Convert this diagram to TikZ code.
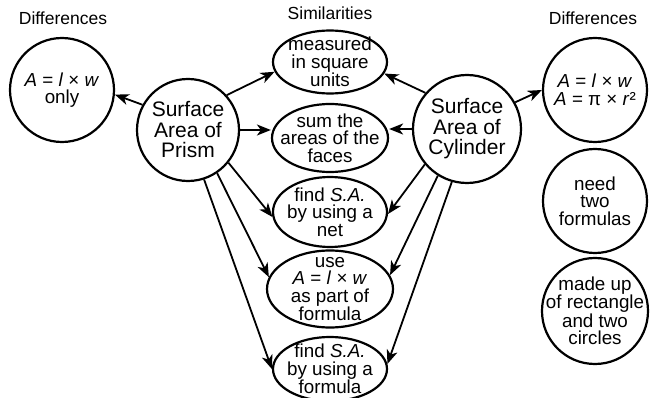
\documentclass[tikz,border=0pt]{standalone}
\usepackage{fontspec}
\setmainfont{Liberation Sans}
\usetikzlibrary{shapes.geometric,arrows.meta}
\begin{document}
\begin{tikzpicture}[x=1pt,y=-1pt,
  circ/.style={draw, circle, line width=2.2pt, inner sep=0pt},
  ell/.style={draw, ellipse, line width=2.2pt, inner sep=0pt},
  txt/.style={align=center, inner sep=0pt, font=\fontsize{18.8}{17.5}\selectfont},
  big/.style={align=center, inner sep=0pt, font=\fontsize{21}{20.5}\selectfont},
  hdr/.style={anchor=base, inner sep=0pt, font=\fontsize{17.5}{18}\selectfont},
  arr/.style={line width=1.8pt, -{Stealth[length=14pt,width=11pt,inset=4pt]}}]
\useasboundingbox (0,0) rectangle (654,398);
\clip (0,0) rectangle (654,398);
\fill[white] (0,0) rectangle (654,398);

% headers
\node[hdr] (h1) at (63,25) {Differences};
\node[hdr] (h2) at (330,20) {Similarities};
\node[hdr] (h3) at (593,25) {Differences};

% circles
\node[circ, minimum size=104pt] (leftc) at (62,90) {};
\node[txt] (leftct) at (leftc) {\textit{A} = \textit{l} × \textit{w}\\only};
\node[circ, minimum size=102pt] (prism) at (188,130) {};
\node[big] (prismt) at (prism) {Surface\\Area of\\Prism};
\node[circ, minimum size=108pt] (cyl) at (467,129) {};
\node[big] (cylt) at (cyl) {Surface\\Area of\\Cylinder};
\node[circ, minimum size=104pt] (r1) at (595,90) {};
\node[txt] (r1t) at (r1) {\textit{A} = \textit{l} × \textit{w}\\\textit{A} = π × \textit{r}²};
\node[circ, minimum size=104pt] (r2) at (595,201) {};
\node[txt] (r2t) at (r2) {need\\two\\formulas};
\node[circ, minimum size=106pt] (r3) at (595,311) {};
\node[txt] (r3t) at (r3) {made up\\of rectangle\\and two\\circles};

% ellipses
\node[ell, minimum width=114pt, minimum height=63pt] (meas) at (330,62) {};
\node[txt] (meast) at (meas) {measured\\in square\\units};
\node[ell, minimum width=116pt, minimum height=68pt] (sum) at (330,138) {};
\node[txt] (sumt) at (sum) {sum the\\areas of the\\faces};
\node[ell, minimum width=114pt, minimum height=70pt] (net) at (330,212) {};
\node[txt] (nett) at (net) {find \textit{S.A.}\\by using a\\net};
\node[ell, minimum width=126pt, minimum height=77pt] (use) at (330,289) {};
\node[txt] (uset) at (use) {use\\\textit{A} = \textit{l} × \textit{w}\\as part of\\formula};
\node[ell, minimum width=114pt, minimum height=64pt] (form) at (330,369) {};
\node[txt] (formt) at (form) {find \textit{S.A.}\\by using a\\formula};

% arrows
\draw[arr] (prism.151) -- (leftc.-5);
\draw[arr] (prism.42) -- (meas.190);
\draw[arr] (prism.east) -- (prism.east -| sum.west);
\draw[arr] (prism.-39) -- (net.185);
\draw[arr] (prism.-56) -- (use.169);
\draw[arr] (prism.-72) -- (form.180);
\draw[arr] (cyl.139) -- (meas.-12);
\draw[arr] (cyl.west) -- (cyl.west -| sum.east);
\draw[arr] (cyl.220) -- (net.-2);
\draw[arr] (cyl.238) -- (use.13);
\draw[arr] (cyl.254) -- (form.5);
\draw[arr] (cyl.29) -- (r1.180);
\end{tikzpicture}
\end{document}
